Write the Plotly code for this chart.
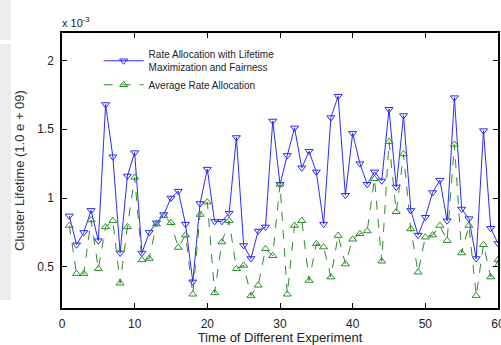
import plotly.graph_objects as go

experiments = list(range(1, 61))

rate_lifetime_fair = [
    0.87, 0.66, 0.75, 0.91, 0.69, 1.68, 1.30, 0.60, 1.16, 1.33,
    0.60, 0.75, 0.82, 0.88, 1.00, 1.05, 0.81, 0.39, 0.96, 1.21,
    0.83, 0.83, 0.89, 1.44, 0.655, 0.56, 0.76, 0.79, 1.56, 1.10,
    1.31, 1.51, 1.22, 1.34, 1.19, 0.81, 1.585, 1.74, 1.02, 1.47,
    1.25, 1.10, 1.19, 1.125, 1.645, 1.08, 1.60, 0.91, 0.73, 0.86,
    1.04, 1.13, 0.835, 1.73, 0.92, 0.85, 0.56, 1.49, 0.78, 0.67,
]

average_rate = [
    0.80, 0.45, 0.45, 0.84, 0.485, 0.79, 0.835, 0.38, 0.79, 1.15,
    0.55, 0.56, 0.81, 0.87, 0.82, 0.64, 0.73, 0.30, 0.88, 0.97,
    0.31, 0.68, 0.835, 0.485, 0.51, 0.29, 0.365, 0.63, 0.58, 1.10,
    0.30, 0.80, 0.835, 0.40, 0.667, 0.643, 0.425, 0.727, 0.52, 0.70,
    0.74, 0.76, 1.14, 0.54, 1.41, 0.90, 1.32, 0.775, 0.46, 0.715,
    0.73, 0.80, 0.69, 1.39, 0.60, 0.80, 0.29, 0.66, 0.425, 0.55,
]

x_ticks = [0, 10, 20, 30, 40, 50, 60]
y_ticks = [0.5, 1, 1.5, 2]
y_tick_text = ["0.5", "1", "1.5", "2"]

BLUE = "#2a2aff"
GREEN = "#2e8b2e"
FONT = "Liberation Sans, Arial, sans-serif"

fig = go.Figure()
fig.add_trace(go.Scatter(
    x=experiments, y=rate_lifetime_fair, mode="lines+markers",
    name="Rate Allocation with Lifetime<br>Maximization and Fairness",
    line=dict(color=BLUE, width=1),
    marker=dict(symbol="triangle-down-open", size=7, color=BLUE, line=dict(width=1)),
))
fig.add_trace(go.Scatter(
    x=experiments, y=average_rate, mode="lines+markers",
    name="Average Rate Allocation",
    line=dict(color=GREEN, width=1, dash="dash"),
    marker=dict(symbol="triangle-up-open", size=7, color=GREEN, line=dict(width=1)),
))

axis_common = dict(
    showline=True, linecolor="black", linewidth=1.5, mirror="ticks",
    ticks="inside", ticklen=5, tickcolor="black", tickwidth=1,
    showgrid=False, zeroline=False, automargin=False,
    ticklabeloverflow="allow",
    tickfont=dict(family=FONT, size=12, color="#222"),
)

fig.update_layout(
    width=501, height=345,
    margin=dict(l=62, r=3, t=33, b=37),
    paper_bgcolor="white", plot_bgcolor="white",
    font=dict(family=FONT, color="#222"),
    xaxis=dict(range=[0, 60], tickvals=x_ticks, **axis_common,
               ticklabelstandoff=4,
               title=dict(text="Time of Different Experiment", standoff=2,
                          font=dict(family=FONT, size=13, color="#222"))),
    yaxis=dict(range=[0.2, 2.2], tickvals=y_ticks, ticktext=y_tick_text, **axis_common,
               ticklabelstandoff=4,
               title=dict(text="Cluster Lifetime (1.0 e + 09)", standoff=10,
                          font=dict(family=FONT, size=13, color="#333"))),
    legend=dict(x=0.084, y=0.97, xanchor="left", yanchor="top",
                bgcolor="rgba(0,0,0,0)", borderwidth=0,
                font=dict(family=FONT, size=10, color="#222"),
                tracegroupgap=4, itemwidth=40),
    showlegend=True,
)

fig.add_annotation(
    xref="paper", yref="paper", x=0, y=1, xanchor="left", yanchor="bottom",
    text="x 10<sup>-3</sup>", showarrow=False, yshift=2, xshift=-2,
    font=dict(family=FONT, size=11, color="#222"),
)

fig.add_shape(type="rect", xref="paper", yref="paper",
              x0=-62/436, x1=-51/436, y0=1-(40-33)/275, y1=1+33/275,
              fillcolor="#ececec", line=dict(width=0), layer="below")
fig.add_shape(type="rect", xref="paper", yref="paper",
              x0=-62/436, x1=-51/436, y0=(308-300)/275, y1=1-(44-33)/275,
              fillcolor="#ececec", line=dict(width=0), layer="below")

fig.write_html(
    "out.html",
    config={"displayModeBar": False},
    post_script="document.body.style.margin='0';document.body.style.overflow='hidden';",
)
